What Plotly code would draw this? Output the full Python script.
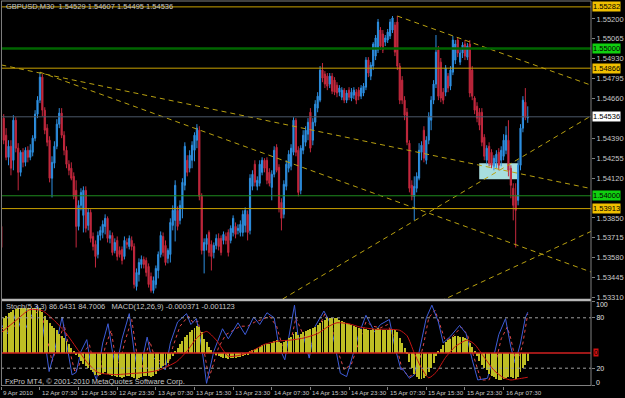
import plotly.graph_objects as go

# ---------------- text ----------------
title_text = "GBPUSD,M30  1.54529 1.54607 1.54495 1.54536"
ind_text = "Stoch(5,3,3) 86.6431 84.7006   MACD(12,26,9) -0.000371 -0.001123"
copy_text = "FxPro MT4, \u00a9 2001-2010 MetaQuotes Software Corp."

# ---------------- price data (M30 bars) ----------------
opens = [1.53792,1.54527,1.54411,1.54261,1.54336,1.54241,1.54513,1.54323,1.54159,1.54295,
1.54227,1.54309,1.54261,1.54295,1.54391,1.54554,1.54649,1.54805,1.54581,1.54459,
1.54377,1.54119,1.54221,1.54336,1.54486,1.54561,1.54411,1.54309,1.54214,1.54187,
1.54132,1.54037,1.53792,1.53935,1.53867,1.54037,1.53799,1.53887,1.53724,1.53670,
1.53602,1.53731,1.53751,1.53792,1.53847,1.53711,1.53731,1.53629,1.53697,1.53629,
1.53636,1.53588,1.53683,1.53656,1.53697,1.53656,1.53384,1.53466,1.53534,1.53568,
1.53561,1.53520,1.53452,1.53357,1.53398,1.53493,1.53602,1.53724,1.53663,1.53575,
1.53602,1.53799,1.53833,1.53901,1.53833,1.53915,1.54071,1.54241,1.54187,1.54241,
1.54309,1.54377,1.54445,1.53996,1.53629,1.53670,1.53751,1.53670,1.53615,1.53663,
1.53711,1.53711,1.53697,1.53724,1.53751,1.53697,1.53751,1.53792,1.53765,1.53751,
1.53751,1.53799,1.53874,1.53765,1.54064,1.54214,1.54064,1.54085,1.54159,1.54241,
1.54241,1.54159,1.54057,1.54146,1.54329,1.54193,1.53955,1.53874,1.54064,1.54187,
1.54200,1.54295,1.54513,1.54309,1.54037,1.54309,1.54363,1.54418,1.54567,1.54377,
1.54499,1.54595,1.54649,1.54853,1.54826,1.54812,1.54758,1.54812,1.54785,1.54751,
1.54703,1.54669,1.54717,1.54649,1.54717,1.54663,1.54683,1.54703,1.54717,1.54676,
1.54697,1.54737,1.54921,1.54812,1.54880,1.54948,1.54989,1.55125,1.55098,1.55043,
1.55057,1.55084,1.55125,1.55159,1.55179,1.54880,1.54785,1.54649,1.54567,1.54357,
1.54071,1.53996,1.54051,1.54119,1.54295,1.54445,1.54241,1.54377,1.54513,1.54649,
1.54758,1.54989,1.54907,1.54703,1.54703,1.54812,1.54744,1.54839,1.54921,1.55057,
1.54907,1.54969,1.55030,1.54941,1.55030,1.54853,1.54663,1.54608,1.54567,1.54567,
1.54397,1.54241,1.54336,1.54295,1.54200,1.54227,1.54295,1.54241,1.54268,1.54309,
1.54377,1.54187,1.54051,1.54003,1.53969,1.54207,1.54459,1.54635,1.54529]

highs = [1.53806,1.54554,1.54459,1.54377,1.54377,1.54547,1.54533,1.54357,1.54309,1.54323,
1.54329,1.54336,1.54350,1.54411,1.54581,1.54676,1.54839,1.54826,1.54601,1.54486,
1.54404,1.54268,1.54370,1.54520,1.54595,1.54595,1.54438,1.54336,1.54241,1.54227,
1.54159,1.54105,1.53969,1.54051,1.54064,1.54064,1.53915,1.53908,1.53751,1.53697,
1.53758,1.53792,1.53833,1.53874,1.53860,1.53765,1.53751,1.53711,1.53724,1.53656,
1.53656,1.53724,1.53711,1.53731,1.53724,1.53677,1.53507,1.53575,1.53595,1.53588,
1.53581,1.53541,1.53479,1.53452,1.53527,1.53622,1.53758,1.53751,1.53697,1.53643,
1.53847,1.53935,1.54105,1.53928,1.53969,1.54119,1.54363,1.54275,1.54309,1.54370,
1.54431,1.54486,1.54472,1.54017,1.53711,1.53738,1.53765,1.53697,1.53683,1.53738,
1.53745,1.53731,1.53758,1.53751,1.53772,1.53799,1.53867,1.53819,1.53806,1.53833,
1.53901,1.53921,1.53901,1.54146,1.54173,1.54241,1.54132,1.54241,1.54261,1.54255,
1.54261,1.54187,1.54173,1.54336,1.54350,1.54214,1.53983,1.54105,1.54241,1.54309,
1.54350,1.54533,1.54527,1.54336,1.54343,1.54445,1.54472,1.54527,1.54595,1.54527,
1.54649,1.54703,1.54880,1.54901,1.54846,1.54833,1.54833,1.54833,1.54805,1.54771,
1.54751,1.54737,1.54731,1.54717,1.54737,1.54731,1.54737,1.54724,1.54737,1.54751,
1.54765,1.54941,1.54941,1.54907,1.55043,1.55091,1.55200,1.55145,1.55125,1.55091,
1.55132,1.55200,1.55220,1.55179,1.55220,1.54901,1.54812,1.54676,1.54595,1.54377,
1.54105,1.54132,1.54159,1.54357,1.54370,1.54472,1.54404,1.54567,1.54676,1.54785,
1.55091,1.55016,1.54935,1.54731,1.54887,1.54833,1.54880,1.55084,1.55057,1.55077,
1.55003,1.55043,1.55057,1.55037,1.55057,1.54880,1.54676,1.54635,1.54595,1.54595,
1.54418,1.54343,1.54363,1.54316,1.54275,1.54309,1.54323,1.54336,1.54418,1.54472,
1.54513,1.54207,1.54085,1.54085,1.54241,1.54486,1.54676,1.54731,1.54607]

lows = [1.53636,1.54350,1.54241,1.54207,1.54139,1.54173,1.54295,1.54037,1.54132,1.54193,
1.54200,1.54227,1.54241,1.54268,1.54370,1.54527,1.54629,1.54540,1.54418,1.54336,
1.54091,1.53989,1.54187,1.54316,1.54459,1.54391,1.54275,1.54187,1.54139,1.54105,
1.53976,1.53649,1.53765,1.53901,1.53751,1.53751,1.53765,1.53683,1.53629,1.53513,
1.53575,1.53697,1.53711,1.53738,1.53683,1.53677,1.53595,1.53609,1.53561,1.53581,
1.53534,1.53568,1.53643,1.53636,1.53629,1.53371,1.53357,1.53418,1.53507,1.53507,
1.53452,1.53377,1.53343,1.53337,1.53371,1.53439,1.53581,1.53588,1.53527,1.53541,
1.53547,1.53765,1.53690,1.53765,1.53806,1.53847,1.54037,1.54132,1.54159,1.54187,
1.54234,1.54323,1.53969,1.53602,1.53473,1.53629,1.53588,1.53493,1.53575,1.53636,
1.53629,1.53595,1.53670,1.53670,1.53588,1.53677,1.53724,1.53711,1.53738,1.53724,
1.53724,1.53751,1.53697,1.53738,1.54037,1.54064,1.54037,1.54064,1.54139,1.54159,
1.54078,1.54064,1.53969,1.54125,1.54159,1.53887,1.53765,1.53847,1.54037,1.54159,
1.54173,1.54275,1.54268,1.53996,1.54010,1.54282,1.54336,1.54377,1.54295,1.54343,
1.54472,1.54567,1.54635,1.54771,1.54731,1.54717,1.54731,1.54690,1.54683,1.54669,
1.54676,1.54649,1.54629,1.54629,1.54649,1.54642,1.54656,1.54622,1.54649,1.54656,
1.54676,1.54717,1.54805,1.54785,1.54853,1.54921,1.54969,1.54989,1.54969,1.55016,
1.55037,1.55064,1.55105,1.54948,1.54853,1.54622,1.54622,1.54513,1.54343,1.54023,
1.53969,1.53833,1.54023,1.54105,1.54241,1.54227,1.54214,1.54350,1.54445,1.54622,
1.54731,1.54649,1.54635,1.54622,1.54676,1.54703,1.54717,1.54819,1.54894,1.54941,
1.54887,1.54935,1.54921,1.54921,1.54669,1.54649,1.54554,1.54499,1.54445,1.54336,
1.54241,1.54214,1.54200,1.54187,1.54173,1.54187,1.54173,1.54200,1.54241,1.54282,
1.54132,1.53983,1.53833,1.53649,1.53935,1.54173,1.54431,1.54513,1.54495]

closes = [1.53649,1.54377,1.54261,1.54336,1.54187,1.54513,1.54323,1.54159,1.54295,1.54227,
1.54309,1.54261,1.54309,1.54391,1.54554,1.54649,1.54805,1.54581,1.54445,1.54363,
1.54119,1.54227,1.54336,1.54486,1.54561,1.54411,1.54309,1.54214,1.54173,1.54119,
1.53996,1.53792,1.53935,1.54023,1.54037,1.53779,1.53887,1.53711,1.53656,1.53588,
1.53731,1.53765,1.53806,1.53847,1.53711,1.53731,1.53615,1.53683,1.53588,1.53602,
1.53561,1.53697,1.53670,1.53711,1.53656,1.53398,1.53479,1.53547,1.53568,1.53534,
1.53479,1.53398,1.53357,1.53425,1.53507,1.53602,1.53731,1.53615,1.53547,1.53629,
1.53819,1.53901,1.54071,1.53792,1.53935,1.54091,1.54336,1.54159,1.54275,1.54343,
1.54411,1.54459,1.53996,1.53629,1.53683,1.53711,1.53615,1.53588,1.53663,1.53711,
1.53656,1.53615,1.53738,1.53697,1.53615,1.53779,1.53847,1.53738,1.53779,1.53806,
1.53874,1.53901,1.53751,1.54119,1.54146,1.54091,1.54105,1.54214,1.54241,1.54187,
1.54105,1.54085,1.54146,1.54309,1.54173,1.53915,1.53847,1.54078,1.54214,1.54282,
1.54323,1.54513,1.54295,1.54023,1.54323,1.54411,1.54445,1.54499,1.54323,1.54499,
1.54622,1.54676,1.54853,1.54799,1.54758,1.54744,1.54812,1.54710,1.54703,1.54697,
1.54731,1.54717,1.54649,1.54697,1.54669,1.54703,1.54717,1.54649,1.54676,1.54731,
1.54744,1.54921,1.54833,1.54887,1.55030,1.55071,1.55179,1.55016,1.54989,1.55071,
1.55111,1.55179,1.55207,1.54975,1.54880,1.54649,1.54649,1.54547,1.54363,1.54051,
1.53996,1.54064,1.54132,1.54309,1.54343,1.54255,1.54377,1.54540,1.54649,1.54758,
1.54975,1.54676,1.54663,1.54649,1.54867,1.54731,1.54853,1.55057,1.55030,1.54969,
1.54969,1.55023,1.54948,1.55016,1.54697,1.54676,1.54581,1.54527,1.54479,1.54363,
1.54268,1.54323,1.54221,1.54207,1.54255,1.54282,1.54207,1.54309,1.54377,1.54411,
1.54173,1.54071,1.53935,1.53901,1.54207,1.54459,1.54649,1.54533,1.54536]

bars = list(range(len(closes)))

# ---------------- axes ----------------
time_tick_bars = [0, 16, 32, 48, 64, 80, 96, 112, 128, 144, 160, 176, 192, 208]
time_tick_labels = ["9 Apr 2010", "12 Apr 07:30", "12 Apr 15:30", "12 Apr 23:30", "13 Apr 07:30",
                    "13 Apr 15:30", "13 Apr 23:30", "14 Apr 07:30", "14 Apr 15:30", "14 Apr 23:30",
                    "15 Apr 07:30", "15 Apr 15:30", "15 Apr 23:30", "16 Apr 07:30"]
price_ticks = [1.55200, 1.55065, 1.54930, 1.54795, 1.54660, 1.54390, 1.54255, 1.54120,
               1.53850, 1.53715, 1.53580, 1.53445, 1.53310]
price_range = [1.53296, 1.55322]
bar_range = [-0.12, 244.19]

# ---------------- chart objects ----------------
gold_levels = [1.55282, 1.54866, 1.53913]
green_levels = [1.55000, 1.54000]
bid_price = 1.54536
# trend lines: (bar0, price0, bar1, price1)
trend_lines = [
    (0.0, 1.54888, 245.0, 1.54046),
    (16.0, 1.54839, 245.0, 1.53478),
    (164.0, 1.55220, 245.0, 1.54746),
    (113.3, 1.53268, 244.2, 1.54542),
    (178.3, 1.53258, 244.2, 1.53758),
]
rect_box = (197.9, 1.54221, 214.1, 1.54112)

# ---------------- indicators ----------------
stoch_scale = [0, 20, 80, 100]
stoch_levels = [20, 80]
stoch_edge_labels = [0, 100]
stoch_main_bars = [0,3,6,9,12,15,17,19.8,22,25.2,27,29.3,31,33,35.4,37,39.4,42,44.2,46,47.6,50,53,55,57,59,60.4,62,64,67.9,70,73,76.7,78.5,80.8,83,85,
                   88,91.6,94,98,101,104.5,107,110,113,115,117.4,119,121.4,123,125,127.5,130,133.6,136,138,140.4,143,146,148,151,154.6,157,160.7,163,165.5,
                   166,169,171,174,176,178.3,181,183,186,189.8,192.5,195,197.3,201.3,204,206,208.8,211,212.8,215,217,218]
stoch_main = [72,60,85,60,80,95,75,16,40,81,50,12,15,40,54,25,6,50,73,40,20,55,85,40,12,40,57,35,30,18,50,75,85,72,79,45,2,
              40,67,55,74,60,81,72,86,80,45,30,55,95,55,60,32,70,88,75,50,14,10,40,60,83,63,72,78,45,18,
              20,8,12,55,80,95,75,50,58,71,61,30,6,8,35,60,79,45,26,50,80,86.64]
stoch_sig_bars = [0,4,7,10,13,16,18,21,23,26,28,30.5,32,34,36.5,38.5,40.5,43,45.5,47,49,51,54,56,58,60,61.5,63,65,69,71,74,77.5,79.5,81.5,84,86,
                  90,93,96,99,102,105,108,111,114,117,119,122,125,128,131,134,137,140,142,145,148,151,154,157,160,163,
                  166,169,172,175,177,179.6,183.7,186,190.5,193,195,198.6,202,205,207,209.5,211,213.5,216,218]
stoch_sig = [68,62,78,68,82,90,70,28,45,72,45,15,22,38,48,22,10,45,65,38,25,50,78,40,18,38,52,38,30,22,45,70,82,74,76,40,8,
             45,60,65,70,70,75,78,82,70,40,40,80,60,45,65,85,70,35,18,25,50,75,70,68,72,55,
             18,10,15,50,80,89,54,55,69,60,40,6,6,30,55,69,55,22,50,84.70]

macd_main = [0.0015,0.0016,0.0017,0.00185,0.0019,0.002,0.00205,0.0021,0.0021,0.0021,
0.0021,0.0021,0.0021,0.0021,0.0021,0.00215,0.0021,0.0019,0.0017,0.00155,
0.0014,0.00125,0.00115,0.00105,0.0009,0.0008,0.0007,0.00055,0.0004,0.00025,
0.0001,-0.0001,-0.0002,-0.00035,-0.0005,-0.0006,-0.0007,-0.0008,-0.0009,-0.001,
-0.001,-0.001,-0.00095,-0.0009,-0.00095,-0.001,-0.00105,-0.00105,-0.0011,-0.0011,
-0.00115,-0.0011,-0.00105,-0.00105,-0.0011,-0.00115,-0.0012,-0.00115,-0.0011,-0.00105,
-0.00105,-0.00105,-0.0011,-0.00105,-0.00095,-0.00085,-0.0007,-0.0006,-0.00055,-0.00045,
-0.0003,-0.00015,0.00005,0.00025,0.0004,0.00055,0.00075,0.00085,0.00095,0.00105,
0.00115,0.00125,0.0012,0.00095,0.00065,0.0005,0.0003,0.00015,0.0,-0.0001,
-0.00015,-0.0002,-0.00025,-0.00025,-0.0003,-0.00025,-0.00025,-0.00025,-0.0002,-0.0002,
-0.00015,-0.0001,-0.0001,0.00005,0.00015,0.0002,0.00025,0.0003,0.00035,0.0004,
0.0004,0.0004,0.00045,0.00055,0.0006,0.0005,0.00045,0.0005,0.0006,0.0007,
0.00075,0.0009,0.00095,0.00085,0.0009,0.00095,0.001,0.00105,0.0011,0.00115,
0.0012,0.0013,0.0014,0.0015,0.00155,0.0016,0.0016,0.0016,0.0016,0.0016,
0.00155,0.0015,0.00145,0.0014,0.00135,0.0013,0.00125,0.0012,0.00115,0.0011,
0.0011,0.0011,0.00105,0.00105,0.0011,0.0011,0.00115,0.0011,0.00105,0.00105,
0.00105,0.0011,0.0011,0.00105,0.00095,0.0007,0.00045,0.00025,-0.00005,-0.0004,
-0.0007,-0.00095,-0.0011,-0.0012,-0.0012,-0.00115,-0.00105,-0.0009,-0.0007,-0.00045,
-0.00015,0.0001,0.0002,0.00035,0.0005,0.0006,0.00065,0.00075,0.0008,0.0008,
0.00075,0.00075,0.0007,0.00065,0.00045,0.0003,0.00005,-0.00015,-0.00035,-0.00055,
-0.0007,-0.0008,-0.00095,-0.00105,-0.0011,-0.0012,-0.00125,-0.00125,-0.0012,-0.00115,
-0.0011,-0.0011,-0.00115,-0.0012,-0.0011,-0.0009,-0.0007,-0.00055,-0.000371]

macd_sig_bars = [0,6,11.7,17,22,26.6,32,36,40,47,54,60,65,72.6,77,81,85,89,94,99,104,109,114.6,120,125.5,131,135,139,144,148.5,155,160,165,
                 168,171,174,177,180,184,188,193,196,200,204,208,211,214,218]
macd_sig = [0.00095,0.0015,0.002,0.00196,0.0015,0.00095,0.0001,-0.0005,-0.0009,-0.001,-0.00095,-0.0009,-0.0008,-0.0004,0.0001,0.0007,0.001,0.0006,-0.00015,-0.0001,0.0001,0.0004,0.00055,0.0006,0.0007,0.0009,0.0012,0.0014,0.00135,0.0012,0.0011,0.0011,0.00105,
            0.0008,0.0,-0.0007,-0.00115,-0.0009,-0.0002,0.0003,0.0006,0.0004,-0.0002,-0.0008,-0.00115,-0.00125,-0.0012,-0.001123]

stoch_range = [-1.19, 100]
stoch_label_range = [-3.85, 105.13]   # MT4 keeps the 0 / 100 captions inside the window
macd_range = [-0.001528, 0.002407]

# ---------------- colours ----------------
BULL = "#2E8FE0"
BEAR = "#C4283E"
GOLD = "#C8A000"
TREND = "#B8A010"
GREEN_DARK = "#006400"
GREEN = "#1E8C1E"
AXIS = "#808080"
TXT = "#C8C8C8"
FONT = "Liberation Sans, Arial, sans-serif"

fig = go.Figure()

fig.add_trace(go.Candlestick(
    x=bars, open=opens, high=highs, low=lows, close=closes,
    increasing=dict(line=dict(color=BULL, width=1), fillcolor=BULL),
    decreasing=dict(line=dict(color=BEAR, width=1), fillcolor=BEAR),
    whiskerwidth=0, xaxis="x", yaxis="y", showlegend=False, hoverinfo="skip"))

for (b0, p0, b1, p1) in trend_lines:
    fig.add_trace(go.Scatter(x=[b0, b1], y=[p0, p1], mode="lines", xaxis="x", yaxis="y",
                             line=dict(color=TREND, width=1, dash="5px,4px"),
                             showlegend=False, hoverinfo="skip"))

# indicator window
fig.add_trace(go.Bar(x=bars, y=macd_main, xaxis="x2", yaxis="y3", width=0.4,
                     marker=dict(color="#BEBE24", line=dict(width=0)),
                     showlegend=False, hoverinfo="skip"))
fig.add_trace(go.Scatter(x=macd_sig_bars, y=macd_sig, mode="lines", xaxis="x2", yaxis="y3",
                         line=dict(color="#C81414", width=1, shape="spline", smoothing=0.6),
                         showlegend=False, hoverinfo="skip"))
fig.add_trace(go.Scatter(x=stoch_sig_bars, y=stoch_sig, mode="lines", xaxis="x2", yaxis="y2",
                         line=dict(color="#E04848", width=1, dash="dot"),
                         showlegend=False, hoverinfo="skip"))
fig.add_trace(go.Scatter(x=stoch_main_bars, y=stoch_main, mode="lines", xaxis="x2", yaxis="y2",
                         line=dict(color="#3E5CD8", width=1),
                         showlegend=False, hoverinfo="skip"))
# empty trace so that the caption axis y4 is drawn
fig.add_trace(go.Scatter(x=[None], y=[None], xaxis="x2", yaxis="y4", mode="lines",
                         showlegend=False, hoverinfo="skip"))

shapes = []
for p in gold_levels:
    shapes.append(dict(type="line", xref="paper", yref="y", x0=0, x1=1, y0=p, y1=p,
                       line=dict(color=GOLD, width=1)))
shapes.append(dict(type="line", xref="paper", yref="y", x0=0, x1=1, y0=green_levels[0], y1=green_levels[0],
                   line=dict(color=GREEN_DARK, width=2.5)))
shapes.append(dict(type="line", xref="paper", yref="y", x0=0, x1=1, y0=green_levels[1], y1=green_levels[1],
                   line=dict(color=GREEN, width=1)))
shapes.append(dict(type="line", xref="paper", yref="y", x0=0, x1=1, y0=bid_price, y1=bid_price,
                   line=dict(color="#4A5868", width=1)))
shapes.append(dict(type="rect", xref="x", yref="y", x0=rect_box[0], x1=rect_box[2],
                   y0=rect_box[1], y1=rect_box[3], fillcolor="#A8DEDE", line=dict(width=0), layer="below"))
for lv in stoch_levels:
    shapes.append(dict(type="line", xref="paper", yref="y2", x0=0, x1=1, y0=lv, y1=lv,
                       line=dict(color="#A0A0A0", width=1, dash="3px,3px")))
shapes.append(dict(type="line", xref="paper", yref="y3", x0=0, x1=1, y0=0, y1=0,
                   line=dict(color="#D02020", width=1.5)))
# frame
H = 385.0
def py(Y):
    return (386.0 - Y) / H
shapes += [
    dict(type="line", xref="paper", yref="paper", x0=0, x1=1, y0=py(1), y1=py(1), line=dict(color=AXIS, width=1)),
    dict(type="line", xref="paper", yref="paper", x0=0, x1=1, y0=py(300), y1=py(300), line=dict(color="#B8B8B8", width=2.5)),
    dict(type="line", xref="paper", yref="paper", x0=0, x1=1, y0=py(385.5), y1=py(385.5), line=dict(color=AXIS, width=1)),
    dict(type="line", xref="paper", yref="paper", x0=0.0008, x1=0.0008, y0=0, y1=1, line=dict(color=AXIS, width=1)),
    dict(type="line", xref="paper", yref="paper", x0=1, x1=1, y0=0, y1=1, line=dict(color=AXIS, width=1)),
]

ann = []
ann.append(dict(text=title_text, xref="paper", yref="paper", x=0.005, y=py(6), xanchor="left", yanchor="middle",
                showarrow=False, font=dict(size=7.5, color=TXT, family=FONT)))
ann.append(dict(text=ind_text, xref="paper", yref="paper", x=0.005, y=py(306), xanchor="left", yanchor="middle",
                showarrow=False, font=dict(size=7.5, color=TXT, family=FONT)))
ann.append(dict(text=copy_text, xref="paper", yref="paper", x=0.004, y=py(381), xanchor="left", yanchor="middle",
                showarrow=False, font=dict(size=7.5, color=TXT, family=FONT)))
for b, t in zip(time_tick_bars, time_tick_labels):
    ann.append(dict(text=t, xref="x2", yref="paper", x=b, y=py(392), xanchor="left", yanchor="middle",
                    xshift=0, showarrow=False, font=dict(size=6.2, color=TXT, family=FONT)))
# highlighted price labels
tags = [(gold_levels[0], "#F0C000"), (green_levels[0], "#10D010"), (gold_levels[1], "#F0C000"),
        (bid_price, "#FFFFFF"), (green_levels[1], "#10D010"), (gold_levels[2], "#F0C000")]
for p, bg in tags:
    ann.append(dict(text=f"{p:.5f}", xref="paper", yref="y", x=1, y=p, xanchor="left", yanchor="middle",
                    xshift=1, showarrow=False, bgcolor=bg, borderpad=0,
                    font=dict(size=7.5, color="#000000", family=FONT)))
ann.append(dict(text="0", xref="paper", yref="y3", x=1, y=0, xanchor="left", yanchor="middle",
                xshift=2, showarrow=False, bgcolor="#D01010", borderpad=0,
                font=dict(size=7, color="#000000", family=FONT)))

fig.update_layout(
    width=625, height=398, margin=dict(l=1, r=23, t=1, b=12),
    paper_bgcolor="#000000", plot_bgcolor="#000000", showlegend=False,
    bargap=0, shapes=shapes, annotations=ann,
    xaxis=dict(domain=[0, 1], anchor="y", range=bar_range, showticklabels=False, showgrid=False,
               zeroline=False, rangeslider=dict(visible=False), fixedrange=True),
    yaxis=dict(domain=[py(299.5), 1], anchor="x", side="right", range=price_range,
               tickvals=price_ticks, ticktext=[f"{v:.5f}" for v in price_ticks],
               ticks="outside", ticklen=3, tickcolor=AXIS, showgrid=False, zeroline=False,
               tickfont=dict(size=7.5, color=TXT, family=FONT)),
    xaxis2=dict(domain=[0, 1], anchor="y2", range=bar_range, tickvals=time_tick_bars,
                ticktext=["" for _ in time_tick_bars], ticks="outside", ticklen=3, tickcolor=AXIS,
                showgrid=False, zeroline=False),
    yaxis2=dict(domain=[0, py(301)], anchor="x2", side="right", range=stoch_range,
                tickvals=stoch_scale, ticktext=["" if v in stoch_edge_labels else str(v) for v in stoch_scale],
                ticks="outside", ticklen=3, tickcolor=AXIS, showgrid=False, zeroline=False,
                ticklabeloverflow="allow", tickfont=dict(size=7, color="#E0E0E0", family=FONT)),
    yaxis3=dict(domain=[0, py(301)], anchor="x2", overlaying="y2", range=macd_range, visible=False),
    yaxis4=dict(domain=[0, py(301)], anchor="x2", overlaying="y2", side="right", range=stoch_label_range,
                tickvals=stoch_edge_labels, ticktext=[str(v) for v in stoch_edge_labels], ticks="",
                ticklabelstandoff=4, showgrid=False, zeroline=False, showline=False,
                ticklabeloverflow="allow", tickfont=dict(size=7, color="#E0E0E0", family=FONT)),
)

fig.write_html("out.html")
